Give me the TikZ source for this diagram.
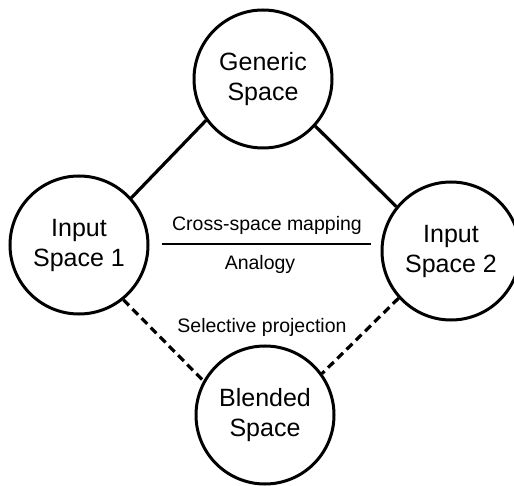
\documentclass[tikz,border=0pt]{standalone}
\usepackage{fontspec}
\setmainfont{Liberation Sans}
\begin{document}
\begin{tikzpicture}[x=1pt,y=-1pt,
  space/.style={circle,draw,line width=3pt,minimum size=138pt,inner sep=0pt,
    align=center,font=\fontsize{25}{30}\selectfont},
  link/.style={line width=3.2pt},
  dlink/.style={line width=3.2pt,dash pattern=on 8pt off 5pt},
  lbl/.style={font=\fontsize{19.5}{22}\selectfont,inner sep=0pt}]
\useasboundingbox (0,0) rectangle (514,486);
\node[space] (gen) at (263,79) {Generic\\Space};
\node[space] (in1) at (79,245) {Input\\Space 1};
\node[space] (in2) at (451,251) {Input\\Space 2};
\node[space] (bl) at (265,415) {Blended\\Space};
\draw[link] (gen.216) -- (in1.42);
\draw[link] (gen.318) -- (in2.141);
\draw[dlink] (in1.309) -- (bl.151);
\draw[dlink] (in2.222) -- (bl.36);
\coordinate (mapL) at (162,244);
\coordinate (mapR) at (371,244);
\draw[line width=2.6pt] (mapL) -- (mapR);
\node[lbl] (cross) at (267,225) {Cross-space mapping};
\node[lbl] (anal) at (260,264) {Analogy};
\node[lbl] (sel) at (262,327) {Selective projection};
\end{tikzpicture}
\end{document}
